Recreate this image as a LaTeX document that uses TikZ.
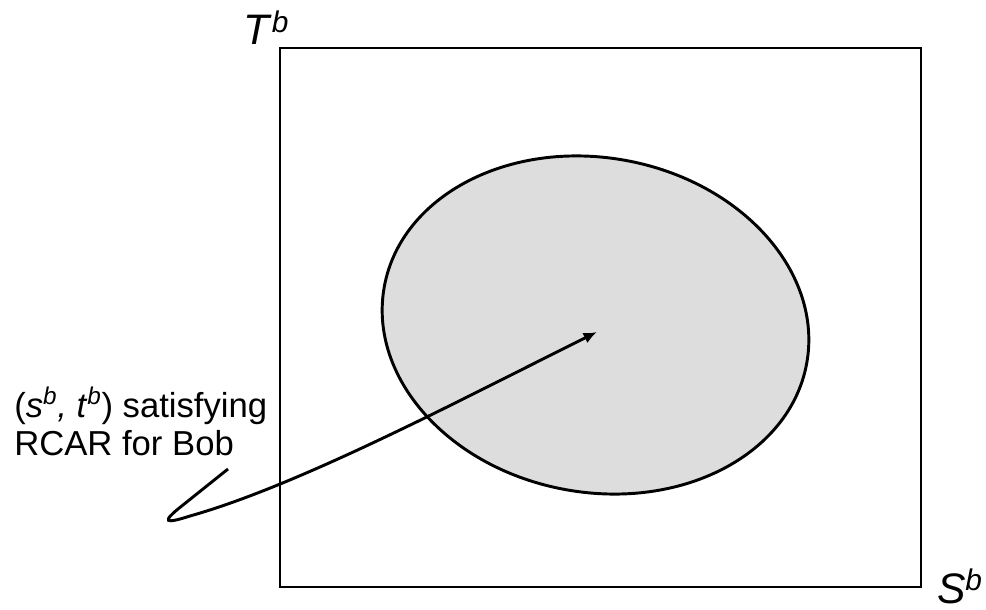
\documentclass[tikz,border=0pt]{standalone}
\usepackage{fontspec}
\setmainfont{Liberation Sans}
\usetikzlibrary{shapes.geometric,arrows.meta}
\begin{document}
\begin{tikzpicture}[x=0.75pt,y=-0.75pt,
  frame/.style={draw, line width=1.5pt, inner sep=0pt, outer sep=0pt,
    minimum width=481pt, minimum height=404pt},
  region/.style={ellipse, draw, line width=2.2pt, fill=black!13.5, inner sep=0pt,
    outer sep=0pt, minimum width=322pt, minimum height=251pt, rotate=-10.3},
  axislbl/.style={inner sep=0pt, font=\fontsize{32}{38}\selectfont},
  notelbl/.style={inner sep=0pt, align=left, font=\fontsize{26}{28.5}\selectfont},
  pointer/.style={line width=2.2pt, -{Latex[length=10pt,width=8.5pt]}}]
\useasboundingbox (0,0) rectangle (986,610);
\node[frame] (box) at (600.5,317.5) {};
\node[region] (set) at (595.5,325) {};
\node[axislbl, anchor=base west] (T) at (243,45) {\textit{T}\textsuperscript{\textit{b}}};
\node[axislbl, anchor=base east] (S) at (983,603) {\textit{S}\textsuperscript{\textit{b}}};
\node[notelbl, anchor=base west] (note) at (14,455)
  {(\textit{s}\textsuperscript{\textit{b}}\textit{, t}\textsuperscript{\textit{b}}) satisfying\\RCAR for Bob};
\coordinate (tail) at (228,469);
\coordinate (tip) at (597,332);
\draw[pointer] (tail) -- (183,505) .. controls (160,523) and (165,524) .. (190,516)
  .. controls (300,485) and (460,400) .. (tip);
\end{tikzpicture}
\end{document}
